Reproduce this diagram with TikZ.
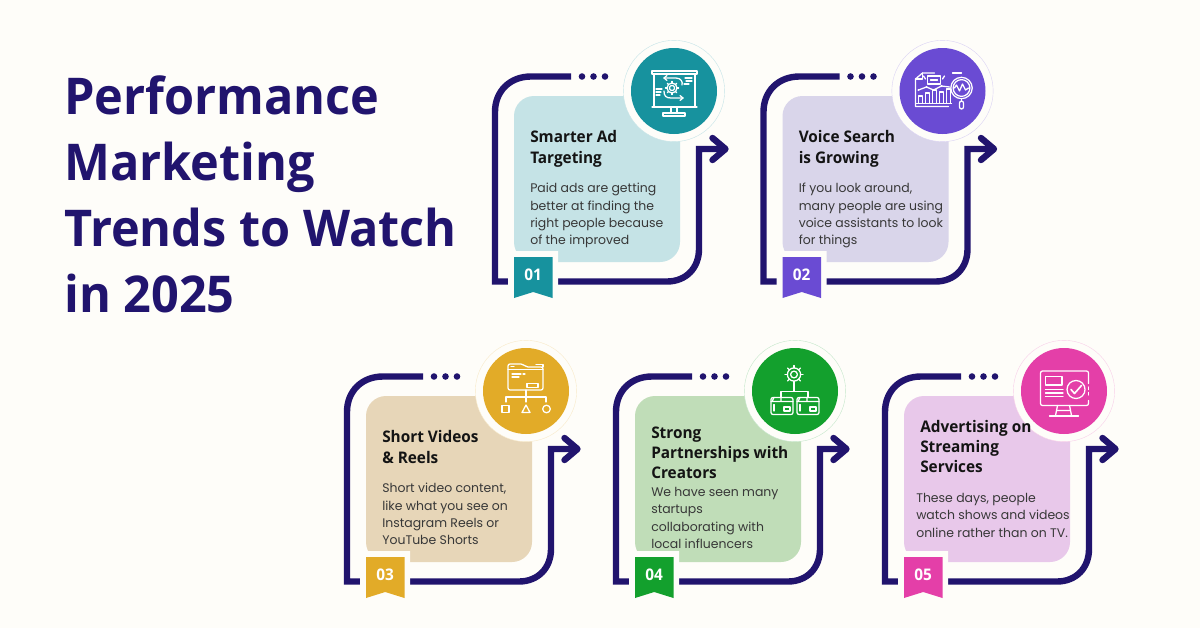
\documentclass[tikz,border=0pt]{standalone}
\usepackage{fontspec}
\setmainfont{Poppins}
\newfontfamily\headfont{Open Sans}[FakeStretch=0.96]
\usetikzlibrary{calc}
\definecolor{bgc}{HTML}{FEFDF9}
\definecolor{navy}{HTML}{21146E}
\definecolor{teal1}{HTML}{17929E}\definecolor{card1}{HTML}{C5E3E6}
\definecolor{purp}{HTML}{6A4BD3}\definecolor{card2}{HTML}{D9D5EA}
\definecolor{gold}{HTML}{E2AB28}\definecolor{card3}{HTML}{E7D6B8}
\definecolor{green1}{HTML}{13A02D}\definecolor{card4}{HTML}{C0DDB8}
\definecolor{pink1}{HTML}{E43FA8}\definecolor{card5}{HTML}{E8C8EA}
\tikzset{
  x=0.75pt,y=-0.75pt,
  frameline/.style={draw=navy,line width=4.8pt,line join=miter},
  arrowhead/.style={draw=navy,line width=4.8pt,line cap=round,line join=round},
  dotc/.style={fill=navy,draw=none},
  ic/.style={draw=white,line width=0.95pt,line join=round,line cap=round,fill=none},
  titletext/.style={anchor=north west,inner sep=0pt,align=left,text=navy,font=\headfont\bfseries\fontsize{38}{49.5}\selectfont},
  headtext/.style={anchor=north west,inner sep=0pt,align=left,text=black!92,font=\headfont\bfseries\fontsize{12}{15.6}\selectfont},
  headtight/.style={anchor=north west,inner sep=0pt,align=left,text=black!92,font=\headfont\bfseries\fontsize{12}{15}\selectfont},
  bodytext/.style={anchor=north west,inner sep=0pt,align=left,text=black!78,font=\fontsize{9.35}{13}\selectfont},
  numtext/.style={text=white,inner sep=0pt,font=\headfont\bfseries\fontsize{12}{14}\selectfont}
}
% #1 dx, #2 dy, #3 id, #4 card colour, #5 accent, #6 number
\newcommand{\cardbase}[6]{%
\begin{scope}[shift={(#1,#2)}]
  \coordinate (#3start) at (571,76.5);
  \coordinate (#3elbow) at (699,149);
  \coordinate (#3tip) at (725,149);
  \draw[frameline] (#3start) -- (531,76.5) .. controls (510,76.5) and (495,91) .. (495,112) -- (495,281.5) -- (667,281.5) .. controls (686,281.5) and (699,268) .. (699,249) -- (#3elbow) -- (#3tip);
  \draw[arrowhead] (712.5,138) -- (725.5,149) -- (712.5,160);
  \fill[dotc] (582,76.5) circle (3.3) (593.5,76.5) circle (3.3) (605,76.5) circle (3.3);
  \fill[#4,rounded corners=15pt] (514,96) rectangle (680,262);
  \node[circle,minimum size=76pt,inner sep=0pt,fill=bgc,draw=#5!25,line width=0.3pt] (#3ring) at (674,91) {};
  \node[circle,minimum size=64.5pt,inner sep=0pt,fill=#5] (#3disc) at (674,91) {};
  \fill[bgc] (508,251) -- (558,251) -- (558,307) -- (533,298) -- (508,307) -- cycle;
  \fill[#5] (514,257) -- (552.5,257) -- (552.5,298) -- (533.2,292) -- (514,298) -- cycle;
  \node[numtext] (#3num) at (533.2,274.5) {#6};
\end{scope}}
% #1 centre, #2 inner radius, #3 outer radius, #4 teeth
\newcommand{\gearicon}[4]{%
  \foreach \r in {1,...,#4}{\draw[ic] ($#1+({\r*360/#4}:#2)$) -- ($#1+({\r*360/#4}:#3)$);}
  \draw[ic] #1 circle (#2);
}
\begin{document}
\begin{tikzpicture}
\useasboundingbox (0,0) rectangle (1200,628);
\fill[bgc] (0,0) rectangle (1200,628);
\node[titletext] (title) at (64,75.5) {Performance\\Marketing\\Trends to Watch\\in 2025};

\cardbase{0}{0}{a}{card1}{teal1}{01}
\cardbase{268.5}{0}{b}{card2}{purp}{02}
\cardbase{-148}{300}{c}{card3}{gold}{03}
\cardbase{121}{300}{d}{card4}{green1}{04}
\cardbase{390}{300}{e}{card5}{pink1}{05}

\node[headtext] (ah) at (530,130) {Smarter Ad\\Targeting};
\node[bodytext] (ab) at (530,183) {Paid ads are getting\\better at finding the\\right people because\\of the improved};
\node[headtext] (bh) at (798.5,130) {Voice Search\\is Growing};
\node[bodytext] (bb) at (798.5,183) {If you look around,\\many people are using\\voice assistants to look\\for things};
\node[headtext] (ch) at (382,430) {Short Videos\\\&~Reels};
\node[bodytext] (cb) at (382,483) {Short video content,\\like what you see on\\Instagram Reels or\\YouTube Shorts};
\node[headtight] (dh) at (651,427) {Strong\\Partnerships with\\Creators};
\node[bodytext] (db) at (651,487) {We have seen many\\startups\\collaborating with\\local influencers};
\node[headtight] (eh) at (920,420) {Advertising on\\Streaming\\Services};
\node[bodytext] (eb) at (916,493) {These days, people\\watch shows and videos\\online rather than on TV.};

% icon 1: presentation screen
\begin{scope}[shift={(674,91)},ic]
  \draw[ic] (-22,-20) rectangle (23,-17);
  \draw[ic] (-20,-17) -- (-20,16) -- (21,16) -- (21,-17);
  \draw[ic] (-22,16) -- (23,16);
  \draw[ic] (-3,16) -- (-3,22) (3,16) -- (3,22);
  \draw[ic] (-11,22) rectangle (11,25);
  \gearicon{(-2,-3)}{5}{6.6}{8}
  \draw[ic] (-2,-3) circle (2.6);
  \draw[ic] (-10,-13) -- (2,-13) .. controls (7,-13) and (9,-9) .. (8,-6);
  \draw[ic] (-7,-15.5) -- (-10,-13) -- (-7,-10.5);
  \draw[ic] (-10,0) .. controls (-10,5) and (-8,7) .. (-3,7) -- (9,7);
  \draw[ic] (6,4.5) -- (9,7) -- (6,9.5);
  \draw[ic] (-18,-2) -- (-12,-2) (-18,1) -- (-13,1) (-18,4) -- (-14,4);
  \draw[ic] (11,-13) -- (18,-13) (12,-10) -- (18,-10) (10,-7) -- (15,-7);
\end{scope}
% icon 2: report and magnifier
\begin{scope}[shift={(942.5,91)},ic]
  \draw[ic] (6,15.5) -- (-27,15.5) -- (-27,-12) -- (-20,-18) -- (-8,-18);
  \draw[ic] (-27,-12) -- (-20,-12) -- (-20,-18);
  \draw[ic] (10,-18) -- (19,-18);
  \draw[ic] (-15,-15) rectangle (-2,-7);
  \draw[ic] (-12,-11) -- (-5,-11);
  \draw[ic] (-19,-15) -- (-17,-12) (2,-15) -- (0,-12);
  \foreach \a/\b in {-24/5,-17/2,-10/-1,-3/1,4/-2}{\draw[ic] (\a,12) -- (\a,\b) -- (\a+4,\b) -- (\a+4,12);}
  \draw[ic] (-26,12.5) -- (9,12.5);
  \draw[ic] (-24,-1) -- (-16,-4) -- (-9,-1) -- (-1,-5) -- (7,-4);
  \fill[white] (-16,-4) circle (1.2) (-1,-5) circle (1.2) (-24,-1) circle (1.2) (-9,-1) circle (1.2);
  \fill[purp] (19,-3) circle (10.7);
  \draw[ic] (19,-3) circle (10.7);
  \draw[ic] (19,-3) circle (8.4);
  \draw[ic] (12,-3) -- (14,-6) -- (17,0) -- (20,-7) -- (23,-1) -- (26,-3);
  \draw[ic] (19,8) -- (19,10);
  \draw[ic,rounded corners=1.5pt] (17,10) rectangle (21,18);
\end{scope}
% icon 3: folder and shapes
\begin{scope}[shift={(526,391)},ic]
  \draw[ic,rounded corners=1.5pt] (-18,-1) -- (-18,-27) -- (-3,-27) -- (0,-24) -- (17,-24) -- (17,-1) -- cycle;
  \draw[ic] (-18,-21.5) -- (17,-21.5);
  \draw[ic] (17,-24) -- (17,-26.5) -- (10,-26.5);
  \draw[ic] (-15,-24.5) -- (-12,-24.5);
  \draw[ic] (-14,-17) -- (-5,-17) (-3,-17) -- (-1,-17) (-14,-14) -- (-7,-14);
  \draw[ic] (1,-7.5) rectangle (12,-3.5);
  \draw[ic] (0,-1) -- (0,6) (-20,11) -- (-20,6) -- (20,6) -- (20,11);
  \draw[ic] (0,6) -- (0,11);
  \draw[ic] (-24,14.5) rectangle (-17,21.5);
  \draw[ic] (-4,21.5) -- (0,14) -- (4,21.5) -- cycle;
  \draw[ic] (20.5,18) circle (3.8);
\end{scope}
% icon 4: gear and boxes
\begin{scope}[shift={(795,391.5)},ic]
  \gearicon{(-1,-17)}{6.6}{9}{8}
  \draw[ic] (-1,-17) circle (3.4);
  \draw[ic] (-1,-8) -- (-1,0) (-14,6) -- (-14,0) -- (13,0) -- (13,6);
  \foreach \x in {-24,2}{
    \draw[ic,rounded corners=1.5pt] (\x,6) rectangle (\x+22,23);
    \draw[ic] (\x,10) -- (\x+22,10) (\x+3,6) -- (\x+1,10) (\x+10,6) -- (\x+10,10);
    \draw[ic] (\x+13,15.5) rectangle (\x+19,19.5);
    \draw[ic] (\x+3,13) -- (\x+3,19.5);
  }
\end{scope}
% icon 5: monitor with check
\begin{scope}[shift={(1063.5,391.5)},ic]
  \draw[ic,rounded corners=1.5pt] (25,-8) -- (25,-20.5) -- (-23,-20.5) -- (-23,14) -- (25,14) -- (25,9);
  \draw[ic] (25,-4.5) -- (25,-2) (25,1) -- (25,3.5);
  \draw[ic] (-18,-15) rectangle (-1.5,-6.5);
  \draw[ic] (-18,-2) -- (-0.5,-2) (-18,1.5) -- (-0.5,1.5) (-18,5) -- (-0.5,5);
  \draw[ic] (12.5,-2) circle (9);
  \draw[ic,line width=1.2pt] (7.5,-2) -- (11,2) -- (18,-6);
  \draw[ic] (-6,14) -- (-8,24) (6,14) -- (8,24) (-6.7,19) -- (6.7,19);
  \draw[ic] (-14,24.5) -- (15,24.5);
\end{scope}
\end{tikzpicture}
\end{document}
